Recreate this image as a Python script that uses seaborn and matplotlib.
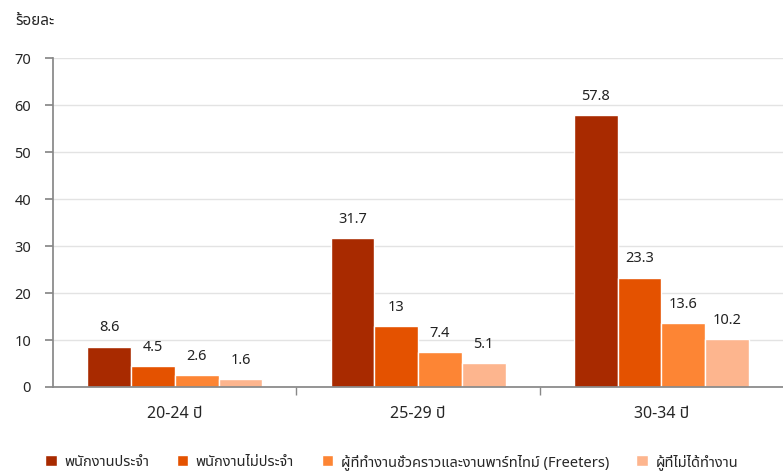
import matplotlib
matplotlib.use("Agg")
import matplotlib.pyplot as plt
from matplotlib import font_manager as fm
import pandas as pd
import seaborn as sns

# ข้อมูล
age_groups = ["20-24 ปี", "25-29 ปี", "30-34 ปี"]
series = ["พนักงานประจำ", "พนักงานไม่ประจำ",
          "ผู้ที่ทำงานชั่วคราวและงานพาร์ทไทม์ (Freeters)", "ผู้ที่ไม่ได้ทำงาน"]
regular = [8.6, 31.7, 57.8]
non_regular = [4.5, 13, 23.3]
freeters = [2.6, 7.4, 13.6]
not_working = [1.6, 5.1, 10.2]
colors = ["#A82A00", "#E45200", "#FD8534", "#FDB58E"]

sns.set_theme(style="white")
installed = {f.name for f in fm.fontManager.ttflist}
thai = [f for f in ["Noto Sans Thai", "Noto Sans Thai Looped", "Loma", "Garuda",
                    "Tlwg Typo", "Waree", "Sarabun", "Tahoma"] if f in installed]
plt.rcParams["font.family"] = thai + ["DejaVu Sans"]

df = pd.DataFrame({
    "age": age_groups * 4,
    "type": [s for s in series for _ in age_groups],
    "value": regular + non_regular + freeters + not_working,
})

fig = plt.figure(figsize=(7.83, 4.76), dpi=100)
ax = fig.add_axes([0.068, 0.187, 0.932, 0.691])
sns.barplot(data=df, x="age", y="value", hue="type", hue_order=series,
            palette=colors, width=0.72, gap=0, edgecolor="white", linewidth=1,
            saturation=1, ax=ax)

for c in ax.containers:
    ax.bar_label(c, labels=[f"{v:g}" for v in c.datavalues], padding=8,
                 fontsize=10.5, color="#222222")

ax.set_ylim(0, 70)
ax.set_xlim(-0.5, 2.5)
ax.set_yticks(range(0, 71, 10))
ax.yaxis.grid(True, color="#e3e3e3", linewidth=1)
ax.set_axisbelow(True)
ax.set_xlabel("")
ax.set_ylabel("")
for s in ["top", "right"]:
    ax.spines[s].set_visible(False)
for s in ["left", "bottom"]:
    ax.spines[s].set_color("#888888")
ax.set_xticks([0.5, 1.5], minor=True)
ax.tick_params(axis="x", which="major", length=0, pad=14, labelsize=11.5)
ax.tick_params(axis="x", which="minor", length=6, color="#888888", direction="out",
               bottom=True)
ax.tick_params(axis="y", length=6, color="#888888", direction="out", left=True,
               labelsize=10.5, pad=10)
for t in ax.get_xticklabels():
    t.set_fontweight("bold")

fig.text(0.02, 0.955, "ร้อยละ", fontsize=11, fontweight="bold", va="center")

handles, labels = ax.get_legend_handles_labels()
ax.legend_.remove()
fig.legend(handles, labels, loc="center left", bbox_to_anchor=(0.05, 0.03),
           ncol=4, frameon=False, fontsize=10.5, handlelength=0.8, handleheight=0.8,
           handletextpad=0.5, columnspacing=1.9, borderaxespad=0)

fig.savefig("out.png", dpi=100)
